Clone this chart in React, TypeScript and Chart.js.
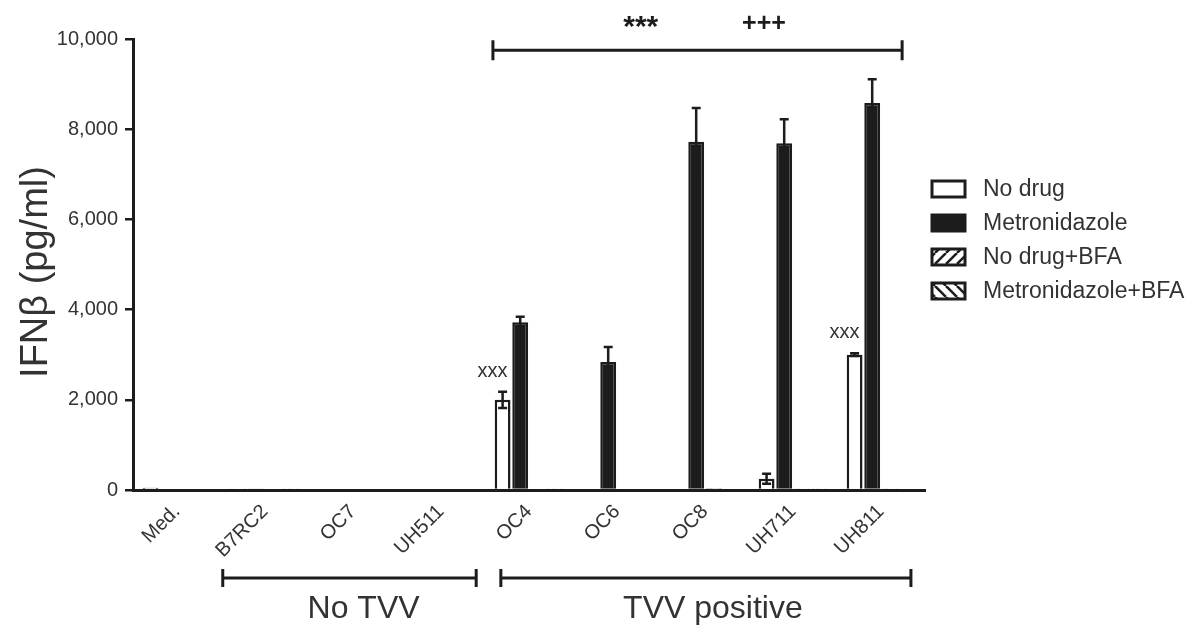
import { useEffect, useRef } from "react";
import { Chart, registerables } from "chart.js";

Chart.register(...registerables);

// ---------- data ----------
const categories = ["Med.", "B7RC2", "OC7", "UH511", "OC4", "OC6", "OC8", "UH711", "UH811"];
const seriesLabels = ["No drug", "Metronidazole", "No drug+BFA", "Metronidazole+BFA"];

const noDrug = [50, 15, 30, 0, 2000, 0, 0, 250, 3000];
const noDrugErr = [0, 0, 0, 0, 180, 0, 0, 110, 30];
const metronidazole = [0, 15, 0, 0, 3720, 2840, 7720, 7690, 8580];
const metronidazoleErr = [0, 0, 0, 0, 120, 330, 750, 530, 530];
const noDrugBfa = [0, 0, 0, 0, 0, 0, 40, 15, 15];
const noDrugBfaErr = [0, 0, 0, 0, 0, 0, 0, 0, 0];
const metronidazoleBfa = [0, 15, 0, 0, 15, 0, 0, 15, 25];
const metronidazoleBfaErr = [0, 0, 0, 0, 0, 0, 0, 0, 0];

const yTicks = [0, 2000, 4000, 6000, 8000, 10000];

const groupLabels = ["No TVV", "TVV positive"];
const topMarks = ["***", "+++"];
const noDrugMark = "xxx";
const noDrugMarkIdx = [4, 8];

// ---------- style ----------
const FONT = '"Liberation Sans", Arial, Helvetica, sans-serif';
const TEXT = "#333333";
const INK = "#1c1c1c";

function hatch(dir: number): CanvasPattern | string {
  const s = 11;
  const c = document.createElement("canvas");
  c.width = s;
  c.height = s;
  const g = c.getContext("2d");
  if (!g) return "#ffffff";
  g.fillStyle = "#ffffff";
  g.fillRect(0, 0, s, s);
  g.strokeStyle = INK;
  g.lineWidth = 2.5;
  g.beginPath();
  for (let k = -1; k <= 1; k++) {
    if (dir > 0) {
      g.moveTo(k * s, s);
      g.lineTo(k * s + s, 0);
    } else {
      g.moveTo(k * s, 0);
      g.lineTo(k * s + s, s);
    }
  }
  g.stroke();
  return g.createPattern(c, "repeat") || "#ffffff";
}

function makeErrorPlugin(errors: number[][]) {
  return {
    id: "errorBars",
    afterDatasetsDraw(chart: any) {
      const { ctx } = chart;
      const y = chart.scales.y;
      ctx.save();
      ctx.strokeStyle = INK;
      ctx.lineWidth = 2.5;
      chart.data.datasets.forEach((ds: any, i: number) => {
        const meta = chart.getDatasetMeta(i);
        meta.data.forEach((el: any, j: number) => {
          const e = errors[i][j];
          if (!e) return;
          const v = ds.data[j] as number;
          const top = y.getPixelForValue(v + e);
          const bot = y.getPixelForValue(Math.max(0, v - e));
          const cap = 4.5;
          ctx.beginPath();
          ctx.moveTo(el.x, top);
          ctx.lineTo(el.x, bot);
          ctx.moveTo(el.x - cap, top);
          ctx.lineTo(el.x + cap, top);
          ctx.moveTo(el.x - cap, bot);
          ctx.lineTo(el.x + cap, bot);
          ctx.stroke();
        });
      });
      ctx.restore();
    },
  };
}

function bracket(ctx: CanvasRenderingContext2D, x1: number, x2: number, yy: number, h: number) {
  ctx.beginPath();
  ctx.moveTo(x1, yy);
  ctx.lineTo(x2, yy);
  ctx.moveTo(x1, yy - h);
  ctx.lineTo(x1, yy + h);
  ctx.moveTo(x2, yy - h);
  ctx.lineTo(x2, yy + h);
  ctx.stroke();
}

const annotationPlugin = {
  id: "annotations",
  afterDraw(chart: any) {
    const { ctx } = chart;
    const x = chart.scales.x;
    const y = chart.scales.y;
    const cw = x.getPixelForValue(1) - x.getPixelForValue(0);
    const px = (i: number, f: number) => x.getPixelForValue(i) + f * cw;
    ctx.save();
    ctx.strokeStyle = INK;
    ctx.fillStyle = TEXT;
    ctx.lineWidth = 3;

    // top significance bracket
    const topY = y.getPixelForValue(9750);
    bracket(ctx, px(4, -0.41), px(8, 0.24), topY, 10);
    ctx.textAlign = "center";
    ctx.textBaseline = "alphabetic";
    ctx.fillStyle = INK;
    ctx.font = `bold 30px ${FONT}`;
    ctx.fillText(topMarks[0], px(5, 0.27), 36);
    ctx.font = `bold 25px ${FONT}`;
    ctx.fillText(topMarks[1], px(7, -0.33), 31);

    // xxx marks above No drug bars
    const meta0 = chart.getDatasetMeta(0);
    ctx.fillStyle = TEXT;
    ctx.font = `20px ${FONT}`;
    noDrugMarkIdx.forEach((idx) => {
      const el = meta0.data[idx];
      const topVal = noDrug[idx] + noDrugErr[idx];
      ctx.fillText(noDrugMark, el.x - 10, y.getPixelForValue(topVal) - 15);
    });

    // bottom group brackets
    const by = 578;
    ctx.lineWidth = 3;
    bracket(ctx, px(1, -0.48), px(3, 0.4), by, 9);
    bracket(ctx, px(4, -0.32), px(8, 0.34), by, 9);
    ctx.font = `32px ${FONT}`;
    ctx.fillStyle = TEXT;
    ctx.fillText(groupLabels[0], px(2, 0.12), 618);
    ctx.fillText(groupLabels[1], px(6, 0.09), 618);

    // y-axis title
    ctx.save();
    ctx.translate(47, 272);
    ctx.rotate(-Math.PI / 2);
    ctx.font = `38px ${FONT}`;
    ctx.textAlign = "center";
    ctx.textBaseline = "alphabetic";
    ctx.fillText("IFNβ (pg/ml)", 0, 0);
    ctx.restore();

    // legend
    ctx.font = `23px ${FONT}`;
    ctx.textAlign = "left";
    ctx.textBaseline = "middle";
    chart.data.datasets.forEach((ds: any, i: number) => {
      const bx = 932;
      const byy = 181 + i * 34;
      const bw = 33;
      const bh = 16;
      ctx.fillStyle = ds.backgroundColor;
      ctx.fillRect(bx, byy, bw, bh);
      ctx.lineWidth = 3;
      ctx.strokeStyle = INK;
      ctx.strokeRect(bx, byy, bw, bh);
      ctx.fillStyle = TEXT;
      ctx.fillText(ds.label, 983, byy + bh / 2 + 1);
    });
    ctx.restore();
  },
};

export default function App() {
  const ref = useRef<HTMLCanvasElement>(null);

  useEffect(() => {
    document.body.style.margin = "0";
    const canvas = ref.current;
    if (!canvas) return;
    const fills = ["#ffffff", INK, hatch(1), hatch(-1)];
    const values = [noDrug, metronidazole, noDrugBfa, metronidazoleBfa];
    const errors = [noDrugErr, metronidazoleErr, noDrugBfaErr, metronidazoleBfaErr];

    const chart = new Chart(canvas, {
      type: "bar",
      data: {
        labels: categories,
        datasets: seriesLabels.map((label, i) => ({
          label,
          data: values[i],
          backgroundColor: fills[i] as any,
          borderColor: INK,
          borderWidth: 2.5,
          categoryPercentage: 0.8,
          barPercentage: 0.9,
        })),
      },
      options: {
        responsive: false,
        animation: false,
        devicePixelRatio: 1,
        layout: { padding: { top: 39, right: 276, left: 0, bottom: 0 } },
        plugins: {
          legend: { display: false },
          tooltip: { enabled: false },
        },
        scales: {
          x: {
            grid: { display: true, drawOnChartArea: false, drawTicks: false },
            border: { display: true, color: INK, width: 3 },
            ticks: {
              maxRotation: 45,
              minRotation: 45,
              padding: 10,
              color: TEXT,
              font: { family: FONT, size: 20 },
            },
            afterFit: (s: any) => {
              s.height = 136;
            },
          },
          y: {
            min: 0,
            max: 10000,
            afterBuildTicks: (s: any) => {
              s.ticks = yTicks.map((v) => ({ value: v }));
            },
            grid: {
              drawOnChartArea: false,
              drawTicks: true,
              tickLength: 8,
              color: INK,
              lineWidth: 2.5,
            },
            border: { display: true, color: INK, width: 3 },
            ticks: {
              padding: 7,
              color: TEXT,
              font: { family: FONT, size: 20 },
              callback: (v: any) => Number(v).toLocaleString("en-US"),
            },
            afterFit: (s: any) => {
              s.width = 133;
            },
          },
        },
      } as any,
      plugins: [makeErrorPlugin(errors), annotationPlugin],
    });
    return () => chart.destroy();
  }, []);

  return (
    <div style={{ position: "absolute", left: 0, top: 0, width: 1201, height: 626, background: "#fff" }}>
      <canvas ref={ref} width={1201} height={626} style={{ width: 1201, height: 626, display: "block" }} />
    </div>
  );
}
